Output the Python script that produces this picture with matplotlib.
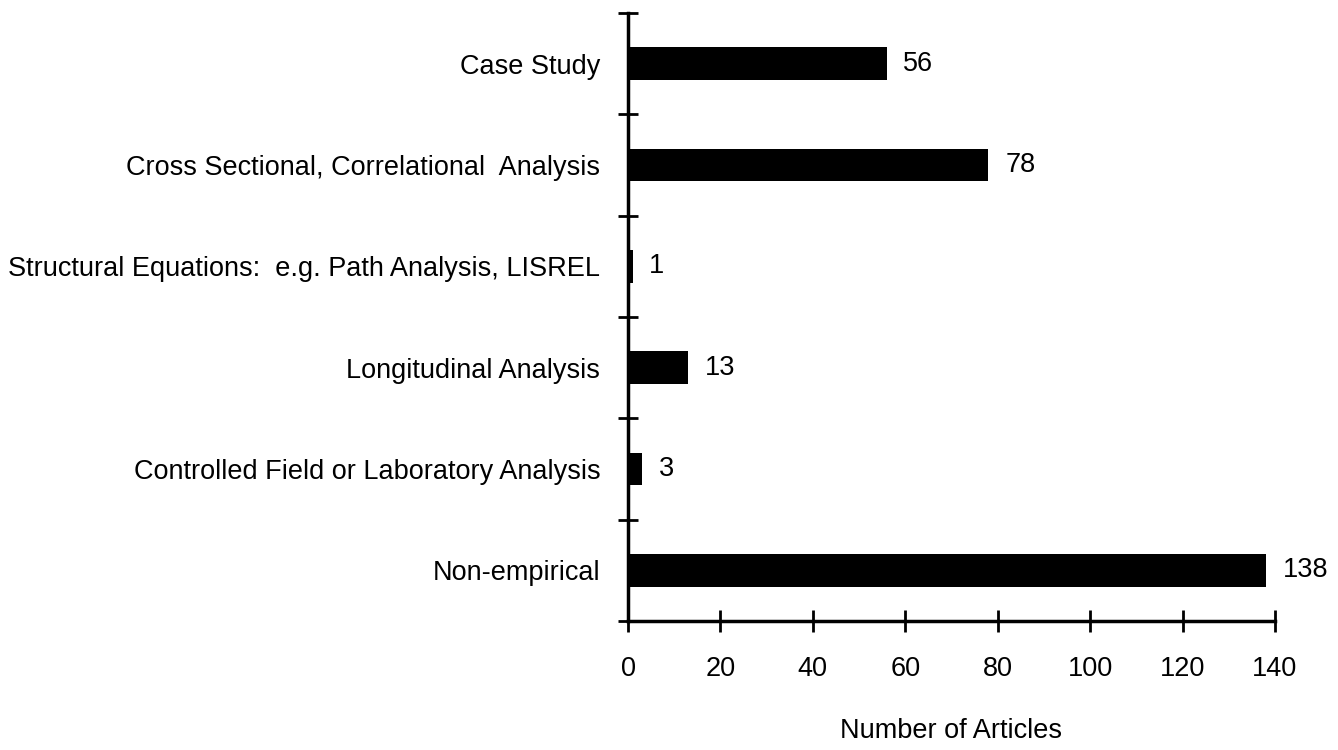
import matplotlib
matplotlib.use("Agg")
import matplotlib.pyplot as plt
import numpy as np

categories = [
    "Case Study",
    "Cross Sectional, Correlational  Analysis",
    "Structural Equations:  e.g. Path Analysis, LISREL",
    "Longitudinal Analysis",
    "Controlled Field or Laboratory Analysis",
    "Non-empirical",
]
values = [56, 78, 1, 13, 3, 138]
x_ticks = [0, 20, 40, 60, 80, 100, 120, 140]
x_label = "Number of Articles"

plt.rcParams['font.family'] = ['Liberation Sans', 'DejaVu Sans']
FS = 19.5

fig = plt.figure(figsize=(13.38, 7.5), dpi=100)
ax = fig.add_axes([628/1338, 1 - 621/750, (1275-628)/1338, (621-13)/750])

n = len(categories)
pos = np.arange(n)[::-1]  # top category at highest y
ax.barh(pos, values, height=0.32, color='black')

for p, v in zip(pos, values):
    ax.annotate(str(v), xy=(v, p), xytext=(12, 0), textcoords='offset points',
                ha='left', va='center', fontsize=FS)

ax.set_xlim(0, 140)
ax.set_ylim(-0.5, n - 0.5)

ax.set_xticks(x_ticks)
ax.set_xticklabels([str(t) for t in x_ticks], fontsize=FS)
ax.tick_params(axis='x', direction='inout', length=16, width=2, pad=17)

ax.set_yticks(np.arange(-0.5, n, 1.0))
ax.set_yticklabels([])
ax.tick_params(axis='y', which='major', direction='inout', length=14, width=2)
ax.set_yticks(pos, minor=True)
ax.set_yticklabels(categories, minor=True, fontsize=FS)
ax.tick_params(axis='y', which='minor', length=0, pad=20)

for s in ['top', 'right']:
    ax.spines[s].set_visible(False)
for s in ['left', 'bottom']:
    ax.spines[s].set_linewidth(2.5)

ax.set_xlabel(x_label, fontsize=FS, labelpad=26)

fig.savefig("out.png", dpi=100)
